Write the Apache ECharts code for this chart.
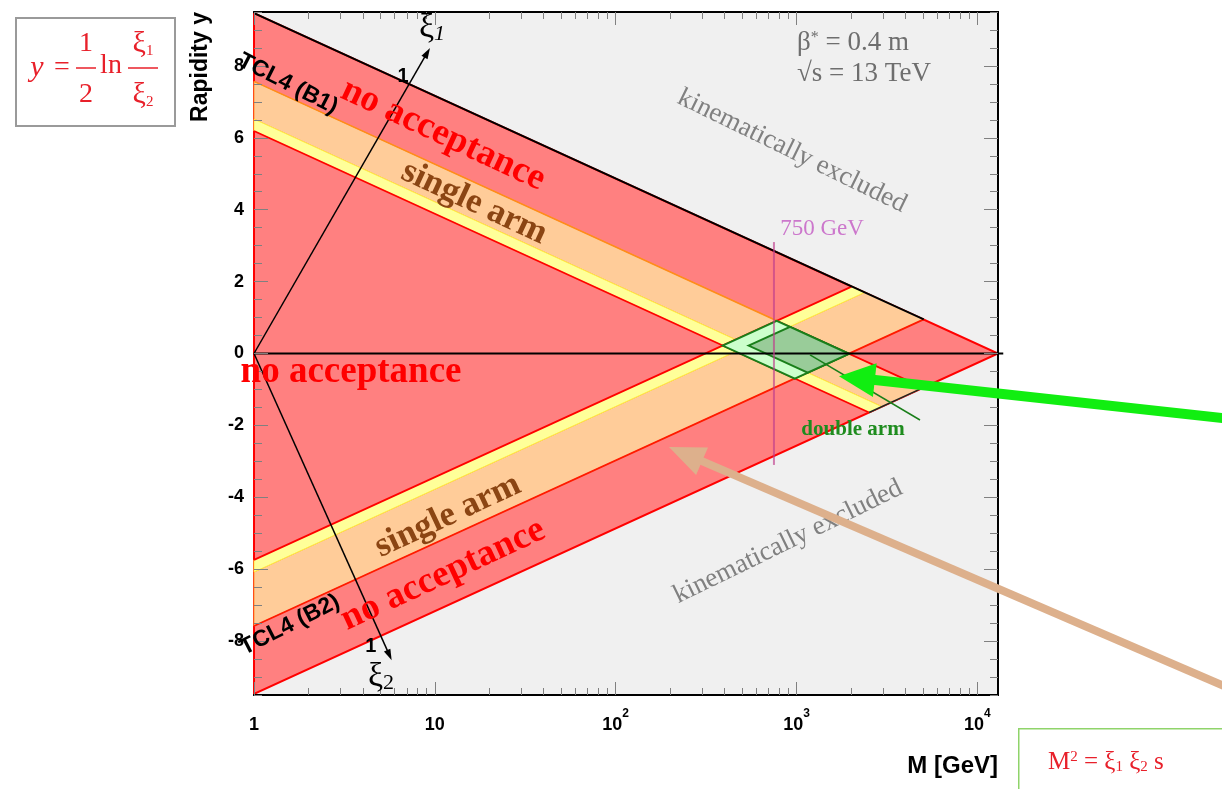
<!DOCTYPE html>
<html><head><meta charset="utf-8">
<script src="https://cdn.jsdelivr.net/npm/echarts@6/dist/echarts.min.js"></script>
<style>html,body{margin:0;padding:0;background:#fff;}#c{width:1222px;height:789px;}</style>
</head><body><div id="c"></div>
<script>
// ================= DATA =================
const massRange = [1, 13000];                 // M [GeV], sqrt(s) = 13 TeV
const rapidityRange = [-9.5, 9.5];
const xMajorTicks = [1, 10, 100, 1000, 10000];
const xMinorTicks = [2,3,4,5,6,7,8,9,20,30,40,50,60,70,80,90,200,300,400,500,600,700,800,900,2000,3000,4000,5000,6000,7000,8000,9000];
const yMajorTicks = [-8, -6, -4, -2, 0, 2, 4, 6, 8];
const yMinorTicks = [-9.5,-9,-8.5,-7.5,-7,-6.5,-5.5,-5,-4.5,-3.5,-3,-2.5,-1.5,-1,-0.5,0.5,1,1.5,2.5,3,3.5,4.5,5,5.5,6.5,7,7.5,8.5,9,9.5];

// regions as [M, y] vertices
const kinematicTriangle = [[1, 9.47], [13000, 0], [1, -9.47]];
const b1Orange = [[1, 7.57], [1, 6.52], [2965, -1.48], [5018, -0.95]];
const b1Yellow = [[1, 6.52], [1, 6.19], [2518, -1.64], [2965, -1.48]];
const b2Orange = [[1, -6.08], [1, -7.58], [5052, 0.95], [2383, 1.70]];
const b2Yellow = [[1, -5.74], [1, -6.08], [2383, 1.70], [2014, 1.86]];
const doubleArmOuter = [[390, 0.22], [777, 0.91], [1950, -0.01], [978, -0.70]];
const doubleArmInner = [[543, 0.22], [920, 0.74], [1950, -0.01], [1152, -0.53]];

// edges
const b1UpperEdgeOrange = [[1, 7.57], [777, 0.91]];
const b1UpperEdgeRed = [[777, 0.91], [5018, -0.95]];
const b1LowerEdge = [[1, 6.19], [2518, -1.64]];
const b2UpperEdge = [[1, -5.74], [2014, 1.86]];
const b2LowerEdge = [[1, -7.58], [5052, 0.95]];
const kinTopEdgeBlack = [[1, 9.47], [5052, 0.95]];
const kinLowEdgeBlack = [[2518, -1.64], [5018, -0.95]];
const zeroRapidity = [[1, 0], [13900, 0]];
const mass750 = [[750, 3.1], [750, -3.1]];
const xi1Axis = [[1, 0], [9.4, 8.5]];
const xi2Axis = [[1, 0], [5.77, -8.53]];
const doubleArmPointer = [[1187, -0.04], [4815, -1.85]];
const greenArrow = [[249300, -1.82], [1717, -0.63]];
const tanArrow = [[249300, -9.32], [197, -2.60]];

// ================= STYLE / LAYOUT =================
const SERIF = '"Liberation Serif","Times New Roman",serif';
const SANS = '"Liberation Sans",Arial,Helvetica,sans-serif';
const GRID = {left: 254, right: 224, top: 12, bottom: 94};
const RED_TXT = '#e8202a';

function polySeries(points, style, z) {
  return {type: 'custom', coordinateSystem: 'cartesian2d', silent: true, clip: false, z: z || 2,
    data: [[1, 0]],
    renderItem: (p, api) => ({type: 'polygon', shape: {points: points.map(v => api.coord(v))}, style: style})};
}
function lineSeries(points, stroke, width, z) {
  return {type: 'custom', coordinateSystem: 'cartesian2d', silent: true, clip: false, z: z || 3,
    data: [[1, 0]],
    renderItem: (p, api) => ({type: 'polyline', shape: {points: points.map(v => api.coord(v))},
      style: {stroke: stroke, lineWidth: width, fill: null}})};
}
function arrowSeries(seg, color, width, headLen, headW, z) {
  return {type: 'custom', coordinateSystem: 'cartesian2d', silent: true, clip: false, z: z || 5,
    data: [[1, 0]],
    renderItem: (p, api) => {
      const a = api.coord(seg[0]), b = api.coord(seg[1]);
      const dx = b[0] - a[0], dy = b[1] - a[1], L = Math.hypot(dx, dy);
      const ux = dx / L, uy = dy / L, px = -uy, py = ux;
      const base = [b[0] - ux * headLen, b[1] - uy * headLen];
      return {type: 'group', children: [
        {type: 'line', shape: {x1: a[0], y1: a[1], x2: base[0] + ux * 2, y2: base[1] + uy * 2},
          style: {stroke: color, lineWidth: width}},
        {type: 'polygon', shape: {points: [b, [base[0] + px * headW / 2, base[1] + py * headW / 2],
          [base[0] - px * headW / 2, base[1] - py * headW / 2]]}, style: {fill: color}}
      ]};
    }};
}

const annotations = [
  {text: 'TCL4 (B1)', at: [1.54, 7.5], rot: -27, font: 'bold 23px ' + SANS, color: '#000'},
  {text: 'TCL4 (B2)', at: [1.58, -7.55], rot: 27, font: 'bold 23px ' + SANS, color: '#000'},
  {text: 'no acceptance', at: [11.1, 6.08], rot: -25, font: 'bold 37px ' + SERIF, color: '#ff0000'},
  {text: 'single arm', at: [16.5, 4.19], rot: -25, font: 'bold 35px ' + SERIF, color: '#8b4513'},
  {text: 'no acceptance', at: [3.44, -0.52], rot: 0, font: 'bold 37px ' + SERIF, color: '#ff0000'},
  {text: 'single arm', at: [11.8, -4.52], rot: 25, font: 'bold 35px ' + SERIF, color: '#8b4513'},
  {text: 'no acceptance', at: [11.1, -6.16], rot: 25, font: 'bold 37px ' + SERIF, color: '#ff0000'},
  {text: 'kinematically excluded', at: [944, 5.63], rot: -26, font: '27px ' + SERIF, color: '#808080'},
  {text: 'kinematically excluded', at: [897, -5.24], rot: 26, font: '27px ' + SERIF, color: '#808080'},
  {text: '{t|β}{s|*}{t| = 0.4 m}', at: [1006, 8.64], rot: 0, font: '27px ' + SERIF, color: '#6e6e6e', align: 'left',
    rich: {t: {fontSize: 27, fontFamily: SERIF, fill: '#6e6e6e'}, s: {fontSize: 16, fontFamily: SERIF, fill: '#6e6e6e', verticalAlign: 'top'}}},
  {text: '√s = 13 TeV', at: [1006, 7.77], rot: 0, font: '27px ' + SERIF, color: '#6e6e6e', align: 'left'},
  {text: '750 GeV', at: [1383, 3.46], rot: 0, font: '23px ' + SERIF, color: '#cc77cc'},
  {text: 'double arm', at: [2052, -2.13], rot: 0, font: 'bold 21px ' + SERIF, color: '#1e8c1e'},
  {text: '{x|ξ}{s|1}', at: [9.64, 9.05], rot: 0, font: '30px ' + SERIF, color: '#000',
    rich: {x: {fontSize: 34, fontFamily: SERIF, fill: '#000', verticalAlign: 'top'}, s: {fontSize: 22, fontStyle: 'italic', fontFamily: SERIF, fill: '#000', verticalAlign: 'bottom'}}},
  {text: '1', at: [6.67, 7.72], rot: 0, font: 'bold 20px ' + SANS, color: '#000'},
  {text: '{x|ξ}{s|2}', at: [5.04, -9.0], rot: 0, font: '30px ' + SERIF, color: '#000',
    rich: {x: {fontSize: 34, fontFamily: SERIF, fill: '#000', verticalAlign: 'top'}, s: {fontSize: 22, fontFamily: SERIF, fill: '#000', verticalAlign: 'bottom'}}},
  {text: '1', at: [4.43, -8.14], rot: 0, font: 'bold 20px ' + SANS, color: '#000'}
];
const textSeries = {
  type: 'custom', coordinateSystem: 'cartesian2d', silent: true, clip: false, z: 30,
  data: annotations.map(() => [1, 0]),
  renderItem: (p, api) => {
    const t = annotations[p.dataIndex];
    const c = api.coord(t.at);
    const style = {text: t.text, font: t.font, fill: t.color, align: t.align || 'center', verticalAlign: 'middle'};
    if (t.rich) style.rich = t.rich;
    return {type: 'text', x: c[0], y: c[1], rotation: (t.rot || 0) * Math.PI / 180, style: style};
  }
};

const xLabelFmt = v => {
  const k = Math.round(Math.log10(v));
  return k === 0 ? '{b|1}' : k === 1 ? '{b|10}' : '{b|10}{sup|' + k + '}';
};
const xRich = {
  b: {fontSize: 18, fontWeight: 'bold', fontFamily: SANS, color: '#000', lineHeight: 26, verticalAlign: 'bottom'},
  sup: {fontSize: 12, fontWeight: 'bold', fontFamily: SANS, color: '#000', lineHeight: 12, verticalAlign: 'top'}
};
function xAx(pos, ticks, len, labels) {
  return {type: 'log', logBase: 10, min: massRange[0], max: massRange[1], position: pos, z: 20,
    axisLine: {show: true, onZero: false, lineStyle: {color: '#000', width: 2}},
    splitLine: {show: false}, minorTick: {show: false},
    axisTick: {show: true, inside: true, length: len, customValues: ticks, lineStyle: {color: '#808080', width: 1}},
    axisLabel: labels ? {show: true, customValues: xMajorTicks, formatter: xLabelFmt, rich: xRich, margin: 13} : {show: false}};
}
function yAx(pos, ticks, len, labels) {
  return {type: 'value', min: rapidityRange[0], max: rapidityRange[1], position: pos, z: 20,
    axisLine: {show: pos === 'right', onZero: false, lineStyle: {color: '#000', width: 2}},
    splitLine: {show: false}, minorTick: {show: false},
    axisTick: {show: true, inside: true, length: len, customValues: ticks, lineStyle: {color: '#808080', width: 1}},
    axisLabel: labels ? {show: true, customValues: yMajorTicks, fontSize: 18, fontWeight: 'bold', fontFamily: SANS, color: '#000', margin: 10} : {show: false}};
}
const xiRich = {a: {fontSize: 30, fontFamily: SERIF, fill: RED_TXT}, b: {fontSize: 15, fontFamily: SERIF, fill: RED_TXT, verticalAlign: 'bottom'}};

const chart = echarts.init(document.getElementById('c'), null, {renderer: 'canvas'});
chart.setOption({
  animation: false,
  backgroundColor: '#ffffff',
  grid: Object.assign({show: true, backgroundColor: '#f0f0f0', borderWidth: 0}, GRID),
  xAxis: [xAx('bottom', xMajorTicks, 13, true), xAx('bottom', xMinorTicks, 7, false),
          xAx('top', xMajorTicks, 13, false), xAx('top', xMinorTicks, 7, false)],
  yAxis: [yAx('left', yMajorTicks, 14, true), yAx('left', yMinorTicks, 8, false),
          yAx('right', yMajorTicks, 14, false), yAx('right', yMinorTicks, 8, false)],
  graphic: [
    {type: 'rect', left: 15, top: 17, shape: {width: 159, height: 108}, style: {fill: '#fff', stroke: '#9a9a9a', lineWidth: 2}, z: 50},
    {type: 'text', x: 37, y: 68, z: 51, style: {text: 'y', font: 'italic 30px ' + SERIF, fill: RED_TXT, align: 'center', verticalAlign: 'middle'}},
    {type: 'text', x: 62, y: 68, z: 51, style: {text: '=', font: '28px ' + SERIF, fill: RED_TXT, align: 'center', verticalAlign: 'middle'}},
    {type: 'text', x: 86, y: 44, z: 51, style: {text: '1', font: '28px ' + SERIF, fill: RED_TXT, align: 'center', verticalAlign: 'middle'}},
    {type: 'line', z: 51, shape: {x1: 76, y1: 68, x2: 96, y2: 68}, style: {stroke: RED_TXT, lineWidth: 1.5}},
    {type: 'text', x: 86, y: 95, z: 51, style: {text: '2', font: '28px ' + SERIF, fill: RED_TXT, align: 'center', verticalAlign: 'middle'}},
    {type: 'text', x: 111, y: 66, z: 51, style: {text: 'ln', font: '28px ' + SERIF, fill: RED_TXT, align: 'center', verticalAlign: 'middle'}},
    {type: 'text', x: 143, y: 44, z: 51, style: {text: '{a|ξ}{b|1}', align: 'center', verticalAlign: 'middle', rich: xiRich}},
    {type: 'line', z: 51, shape: {x1: 128, y1: 68, x2: 158, y2: 68}, style: {stroke: RED_TXT, lineWidth: 1.5}},
    {type: 'text', x: 143, y: 95, z: 51, style: {text: '{a|ξ}{b|2}', align: 'center', verticalAlign: 'middle', rich: xiRich}},
    {type: 'text', x: 201, y: 12, rotation: Math.PI / 2, z: 50, style: {text: 'Rapidity y', font: 'bold 23px ' + SANS, fill: '#000', align: 'right', verticalAlign: 'middle'}},
    {type: 'text', x: 998, y: 766, z: 50, style: {text: 'M [GeV]', font: 'bold 24px ' + SANS, fill: '#000', align: 'right', verticalAlign: 'middle'}},
    {type: 'rect', left: 1018, top: 728, shape: {width: 215, height: 75}, style: {fill: '#fff', stroke: '#8fd46a', lineWidth: 1.5}, z: 50},
    {type: 'text', x: 1048, y: 762, z: 51, style: {text: '{t|M}{p|2}{t| = ξ}{s|1}{t| ξ}{s|2}{t| s}', align: 'left', verticalAlign: 'middle',
      rich: {t: {fontSize: 25, fontFamily: SERIF, fill: RED_TXT}, p: {fontSize: 15, fontFamily: SERIF, fill: RED_TXT, verticalAlign: 'top'}, s: {fontSize: 15, fontFamily: SERIF, fill: RED_TXT, verticalAlign: 'bottom'}}}}
  ],
  series: [
    polySeries(kinematicTriangle, {fill: '#ff8080', stroke: '#ff0000', lineWidth: 2}),
    polySeries(b1Orange, {fill: '#ffcc99', stroke: '#ff9933', lineWidth: 1}),
    polySeries(b1Yellow, {fill: '#ffff99', stroke: '#ffee44', lineWidth: 1}),
    polySeries(b2Orange, {fill: '#ffcc99', stroke: '#ff9933', lineWidth: 1}),
    polySeries(b2Yellow, {fill: '#ffff99', stroke: '#ffee44', lineWidth: 1}),
    lineSeries(b1UpperEdgeOrange, '#ff8c1a', 1.5),
    lineSeries(b1UpperEdgeRed, '#ff0000', 1.8),
    lineSeries(b1LowerEdge, '#ff0000', 1.8),
    lineSeries(b2UpperEdge, '#ff0000', 1.8),
    lineSeries(b2LowerEdge, '#ff1a00', 1.8),
    lineSeries(kinTopEdgeBlack, '#000000', 2),
    lineSeries(kinLowEdgeBlack, '#222222', 1.5),
    polySeries(doubleArmOuter, {fill: '#ccffcc', stroke: '#1a7f1a', lineWidth: 2}, 3.5),
    polySeries(doubleArmInner, {fill: '#99cc99', stroke: '#1a7f1a', lineWidth: 2}, 3.6),
    lineSeries(zeroRapidity, '#000000', 2, 4),
    lineSeries(mass750, 'rgba(190,60,140,0.65)', 2, 4),
    lineSeries(doubleArmPointer, '#1a7f1a', 1.5, 4),
    arrowSeries(xi1Axis, '#000', 1.5, 11, 7, 5),
    arrowSeries(xi2Axis, '#000', 1.5, 11, 7, 5),
    textSeries,
    arrowSeries(greenArrow, '#11ee11', 10, 36, 34, 40),
    arrowSeries(tanArrow, '#ddb08c', 8, 36, 30, 40)
  ]
});
</script></body></html>
